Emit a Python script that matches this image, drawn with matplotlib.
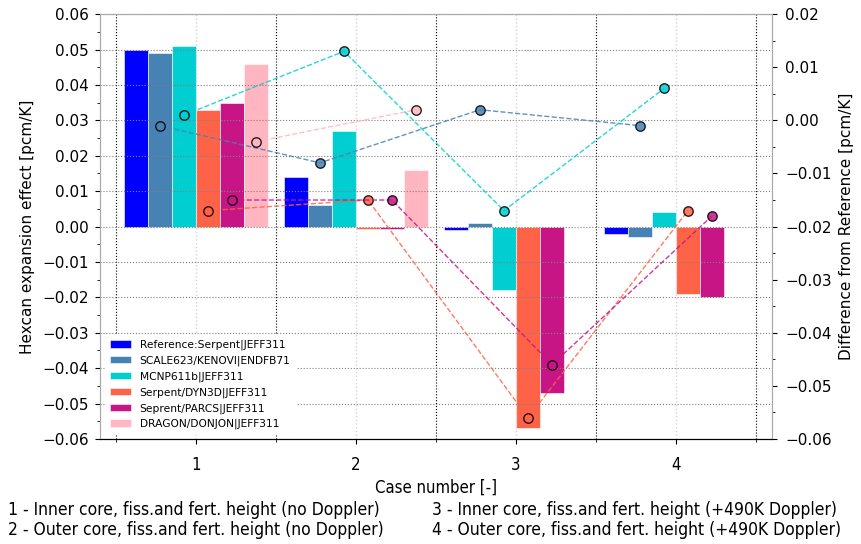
import numpy as np
import matplotlib
matplotlib.use("Agg")
import matplotlib.pyplot as plt
from matplotlib.ticker import MultipleLocator

# hexcan expansion effect per case [pcm/K]
cases = [1, 2, 3, 4]
codes = ["Reference:Serpent|JEFF311", "SCALE623/KENOVI|ENDFB71", "MCNP611b|JEFF311",
         "Serpent/DYN3D|JEFF311", "Seprent/PARCS|JEFF311", "DRAGON/DONJON|JEFF311"]
colors = ["#0000ff", "#4682b4", "#00ced1", "#ff6347", "#c71585", "#ffb6c1"]

ref_serpent = [0.050, 0.014, -0.001, -0.002]
scale_kenovi = [0.049, 0.006, 0.001, -0.003]
mcnp = [0.051, 0.027, -0.018, 0.004]
serpent_dyn3d = [0.033, -0.0007, -0.057, -0.019]
serpent_parcs = [0.035, -0.0007, -0.047, -0.020]
dragon_donjon = [0.046, 0.016, np.nan, np.nan]

# difference of each code from the reference [pcm/K]
diff_scale = [-0.001, -0.008, 0.002, -0.001]
diff_mcnp = [0.001, 0.013, -0.017, 0.006]
diff_dyn3d = [-0.017, -0.015, -0.056, -0.017]
diff_parcs = [-0.015, -0.015, -0.046, -0.018]
diff_dragon = [-0.004, 0.002, np.nan, np.nan]

case_notes = ["1 - Inner core, fiss.and fert. height (no Doppler)",
              "2 - Outer core, fiss.and fert. height (no Doppler)",
              "3 - Inner core, fiss.and fert. height (+490K Doppler)",
              "4 - Outer core, fiss.and fert. height (+490K Doppler)"]

effects = [ref_serpent, scale_kenovi, mcnp, serpent_dyn3d, serpent_parcs, dragon_donjon]
diffs = [None, diff_scale, diff_mcnp, diff_dyn3d, diff_parcs, diff_dragon]

fig = plt.figure(figsize=(8.62, 5.44), dpi=100)
ax1 = fig.add_axes([0.116, 0.193, 0.7796, 0.781])
ax2 = ax1.twinx()

x = np.array(cases, dtype=float)
width = 0.15
for i, (vals, col, lab) in enumerate(zip(effects, colors, codes)):
    pos = x + (i - 2.5) * width
    ax1.bar(pos, vals, width, color=col, label=lab, edgecolor="white", linewidth=0.4)
    if diffs[i] is not None:
        ax2.plot(pos, diffs[i], "--", color=col, lw=1.0, alpha=0.85,
                 marker="o", markersize=6.8, markerfacecolor=col,
                 markeredgecolor="black", markeredgewidth=1.0)

ax1.set_xlim(0.4, 4.6)
ax1.set_ylim(-0.06, 0.06)
ax2.set_ylim(-0.06, 0.02)
ax1.set_xticks(cases)
ax1.xaxis.set_minor_locator(MultipleLocator(0.5))
ax1.yaxis.set_major_locator(MultipleLocator(0.01))
ax1.yaxis.set_minor_locator(MultipleLocator(0.005))
ax2.yaxis.set_major_locator(MultipleLocator(0.01))
ax2.yaxis.set_minor_locator(MultipleLocator(0.005))

ax1.set_axisbelow(False)
ax1.grid(which="major", axis="y", color="gray", linestyle=":", linewidth=0.8)
ax1.grid(which="major", axis="x", color="lightgray", linestyle=":", linewidth=1.0)
ax1.grid(which="minor", axis="x", color="black", linestyle=":", linewidth=0.8)

for ax in (ax1, ax2):
    for side in ("left", "right", "top"):
        ax.spines[side].set_color("#aaaaaa")
    ax.spines["bottom"].set_color("black")
    ax.tick_params(labelsize=11)
ax1.tick_params(axis="y", which="major", pad=4.5)
ax2.tick_params(axis="y", which="major", pad=6)

ax1.set_ylabel("Hexcan expansion effect [pcm/K]", fontsize=11, labelpad=5)
ax2.set_ylabel("Difference from Reference [pcm/K]", fontsize=11, labelpad=5)

# case numbers and notes use the narrow face
ax1.tick_params(axis="x", which="major", pad=9)
for lbl in ax1.get_xticklabels():
    lbl.set_fontstretch("condensed")
    lbl.set_fontsize(12)
ax1.set_xlabel("Case number [-]", labelpad=3, family="DejaVu Sans",
               fontstretch="condensed", fontsize=12)

leg = ax1.legend(loc="lower left", fontsize=7.7, frameon=True, fancybox=False,
                 framealpha=1.0, facecolor="white", edgecolor="white")

note = dict(family="DejaVu Sans", fontstretch="condensed", fontsize=12.5,
            ha="left", va="center", linespacing=1.12)
fig.text(0.009, 0.044, case_notes[0] + "\n" + case_notes[1], **note)
fig.text(0.501, 0.044, case_notes[2] + "\n" + case_notes[3], **note)

fig.savefig("out.png", dpi=100)
